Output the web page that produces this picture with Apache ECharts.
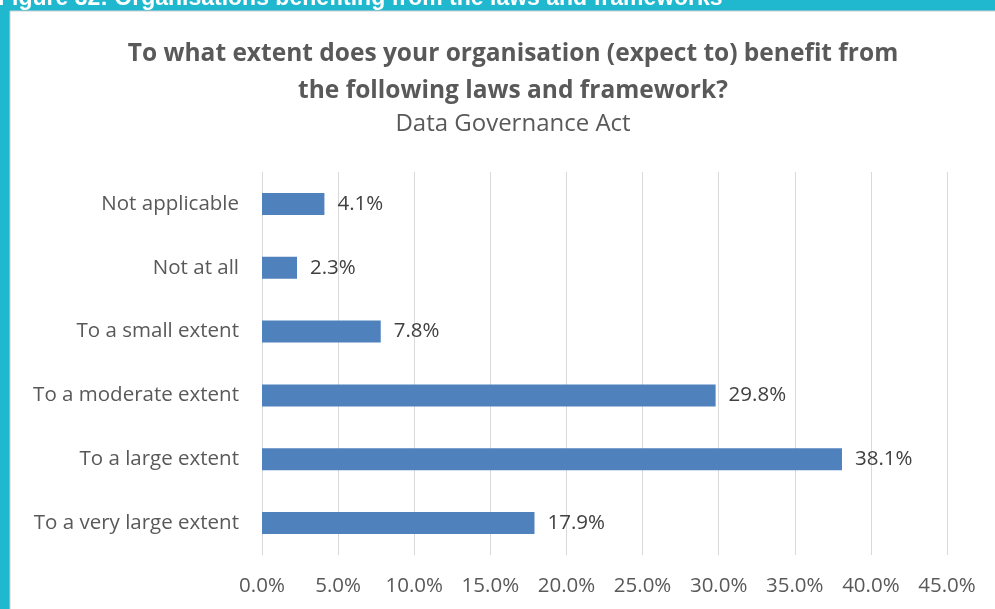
<!DOCTYPE html>
<html>
<head>
<meta charset="utf-8">
<script src="https://cdn.jsdelivr.net/npm/echarts@6/dist/echarts.min.js"></script>
<style>
  html, body { margin: 0; padding: 0; background: #1fb8cf; }
  #chart { width: 995px; height: 609px; }
</style>
</head>
<body>
<div id="chart"></div>
<script>
// Survey answers, listed top to bottom
const categories = [
  'Not applicable',
  'Not at all',
  'To a small extent',
  'To a moderate extent',
  'To a large extent',
  'To a very large extent'
];
const shares = [4.1, 2.3, 7.8, 29.8, 38.1, 17.9];
const tickStep = 5;
const axisMax = 45;

const font = '"Open Sans", "Liberation Sans", sans-serif';
const grey = '#595959';

const chart = echarts.init(document.getElementById('chart'));
chart.setOption({
  animation: false,
  backgroundColor: '#1fb8cf',
  graphic: [
    { type: 'rect', z: -10, shape: { x: 10, y: 11, width: 990, height: 600 },
      style: { fill: '#ffffff', stroke: '#d0d0d0', lineWidth: 1 } },
    { type: 'text', left: -2, top: -13, z: 10,
      style: { text: 'Figure 32: Organisations benefiting from the laws and frameworks',
               fill: '#ffffff', font: 'bold 23px "Liberation Sans", Arial, sans-serif' } }
  ],
  title: [
    {
      text: 'To what extent does your organisation (expect to) benefit from\nthe following laws and framework?',
      left: 508, top: 31, textAlign: 'center',
      textStyle: { color: grey, fontSize: 24.5, fontWeight: 'bold', lineHeight: 37, fontFamily: font }
    },
    {
      text: 'Data Governance Act',
      left: 508, top: 107, textAlign: 'center',
      textStyle: { color: grey, fontSize: 24, fontWeight: 'normal', fontFamily: font }
    }
  ],
  grid: { left: 262, right: 48, top: 172, bottom: 54 },
  xAxis: {
    type: 'value', min: 0, max: axisMax, interval: tickStep,
    axisLine: { show: false }, axisTick: { show: false },
    splitLine: { lineStyle: { color: '#d9d9d9', width: 1 } },
    axisLabel: { color: grey, fontSize: 20.5, fontFamily: font, margin: 21,
                 formatter: v => v.toFixed(1) + '%' }
  },
  yAxis: {
    type: 'category', data: categories, inverse: true,
    axisLine: { show: false }, axisTick: { show: false },
    axisLabel: { color: grey, fontSize: 20.5, fontFamily: font, margin: 23 }
  },
  series: [{
    type: 'bar', data: shares, barWidth: 22,
    itemStyle: { color: '#4f81bd' },
    label: { show: true, position: 'right', distance: 13, color: '#404040',
             fontSize: 20.5, fontFamily: font, formatter: p => p.value.toFixed(1) + '%' }
  }]
});
</script>
</body>
</html>
